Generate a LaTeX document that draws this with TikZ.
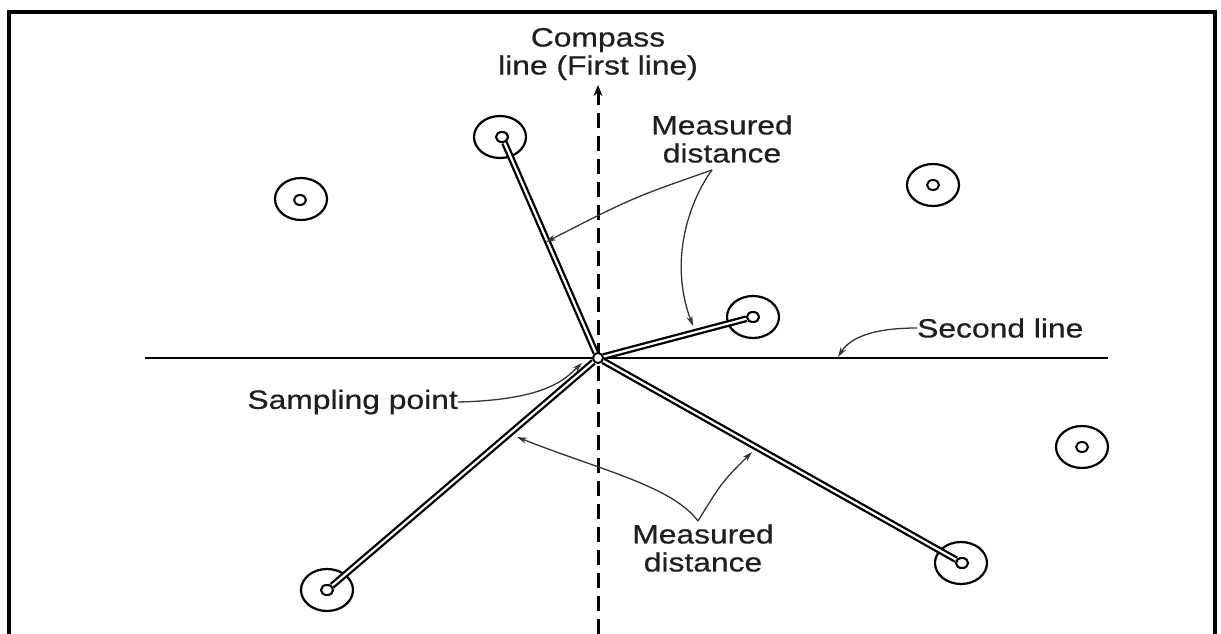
\documentclass[tikz,border=0pt]{standalone}
\usepackage{fontspec}
\newfontfamily\labelfont{Liberation Sans}[FakeStretch=1.2,FakeBold=0.6]
\usetikzlibrary{arrows.meta,shapes.geometric}
\tikzset{
  frame/.style={line width=4pt},
  lbl/.style={font=\labelfont\fontsize{26.5}{28}\selectfont, inner sep=0pt, text=black!88},
  pt/.style={ellipse, draw, line width=2pt, fill=white, minimum width=12pt, minimum height=10pt, inner sep=0pt},
  ring/.style={ellipse, draw, line width=2.2pt, minimum width=52pt, minimum height=42pt, inner sep=0pt},
  origin/.style={circle, draw, line width=1.8pt, fill=white, minimum size=10pt, inner sep=0pt},
  meas/.style={double=white, double distance=2.2pt, line width=2.3pt},
  baseline/.style={line width=2.4pt},
  compass/.style={line width=3pt, dash pattern=on 15pt off 8pt, -{Stealth[length=11pt,width=9pt]}},
  ann/.style={line width=1.3pt, black!80, -{Stealth[length=10pt,width=6pt]}}
}
\begin{document}
\begin{tikzpicture}[x=1pt,y=-1pt]
\useasboundingbox (0,0) rectangle (1221,634);

% frame, open at the bottom
\draw[frame] (9,634) -- (9,12) -- (1215,12) -- (1215,634);

% second line and compass line
\coordinate (hl) at (145,358);
\coordinate (hr) at (1108,358);
\draw[baseline] (hl) -- (hr);
\coordinate (cbot) at (598,634);
\coordinate (ctop) at (598,85);
\draw[compass] (cbot) -- (ctop);

% sampling point
\node[origin] (S) at (598,358) {};

% measured trees
\node[ring] (r1) at (500,137) {};
\node[pt]   (p1) at (502,137) {};
\node[ring] (r2) at (753,317) {};
\node[pt]   (p2) at (753,317) {};
\node[ring] (r3) at (327,590) {};
\node[pt]   (p3) at (327,590) {};
\node[ring] (r4) at (961,563) {};
\node[pt]   (p4) at (962,563) {};

% other trees
\node[ring] (r5) at (301,199) {};
\node[pt]   (p5) at (300,200) {};
\node[ring] (r6) at (933,185) {};
\node[pt]   (p6) at (933,185) {};
\node[ring] (r7) at (1082,447) {};
\node[pt]   (p7) at (1082,447) {};

% measured distances
\foreach \p in {p1,p2,p3,p4} \draw[meas] (S) -- (\p);
\node[origin] at (S) {};
\foreach \p in {p1,p2,p3,p4} \node[pt] at (\p) {};

% labels
\node[lbl, align=center] (compasslbl) at (598,54) {Compass\\line (First line)};
\node[lbl, align=center] (mdtop) at (722,139) {Measured\\distance};
\node[lbl, anchor=west] (second) at (917,328) {Second line};
\node[lbl, anchor=east] (samp) at (458,402) {Sampling point};
\node[lbl, align=center] (mdbot) at (703,548) {Measured\\distance};

% annotation leaders
\coordinate (jt) at (712,170);
\coordinate (tA) at (546,242);
\coordinate (tB) at (693,326);
\draw[ann] (jt) .. controls (632,198) .. (tA);
\draw[ann] (jt) .. controls (690,200) and (668,260) .. (tB);

\coordinate (jb) at (698,521);
\coordinate (tC) at (517,437);
\coordinate (tD) at (752,452);
\draw[ann] (jb) .. controls (672,486) and (600,470) .. (tC);
\draw[ann] (jb) .. controls (722,482) .. (tD);

\coordinate (tS) at (582,363);
\draw[ann] (samp.east) .. controls (548,400) and (566,378) .. (tS);

\coordinate (tL) at (838,357);
\draw[ann] (second.west) .. controls (872,328) and (850,338) .. (tL);
\end{tikzpicture}
\end{document}
